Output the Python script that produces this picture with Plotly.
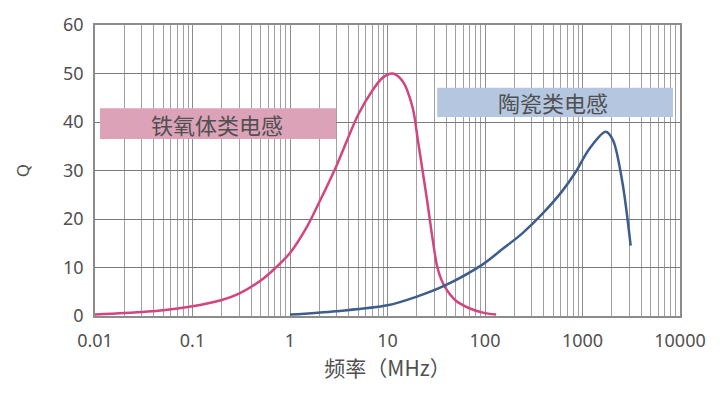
import plotly.graph_objects as go

# Ferrite inductor Q vs frequency
ferrite_f = [0.01, 0.02, 0.05, 0.1, 0.2, 0.3, 0.5, 0.7, 1, 1.5, 2, 3, 5, 7, 9, 11.3, 14.3, 18.1, 20.4, 23, 25.8, 29.1, 32.7, 38.3, 50, 69, 95, 130]
ferrite_q = [0.3, 0.6, 1.2, 2.0, 3.3, 4.6, 7.3, 9.8, 13, 18.5, 23.5, 31, 41.5, 46.5, 49.2, 50, 48.4, 43, 36.5, 29.7, 23.1, 15.7, 9.8, 6.2, 3.2, 1.6, 0.7, 0.3]

# Ceramic inductor Q vs frequency
ceramic_f = [1, 3, 10, 20, 38, 94, 151, 243, 389, 622, 851, 1168, 1730, 2050, 2559, 3119]
ceramic_q = [0.3, 1.0, 2.2, 4.0, 6.2, 10.6, 13.8, 17.1, 21.1, 25.8, 29.7, 34.4, 38, 36.3, 27.7, 14.5]

x_ticks = [0.01, 0.1, 1, 10, 100, 1000, 10000]
x_tick_text = ["0.01", "0.1", "1", "10", "100", "1000", "10000"]
y_ticks = [0, 10, 20, 30, 40, 50, 60]
minor_vals = [k * 10 ** e for e in range(-2, 4) for k in range(2, 10)]

label_ferrite = "铁氧体类电感"
label_ceramic = "陶瓷类电感"
x_title = "频率（MHz）"
y_title = "Q"

fig = go.Figure()
fig.add_trace(go.Scatter(x=ferrite_f, y=ferrite_q, mode="lines",
                         line=dict(color="#d2457f", width=2.5, shape="spline", smoothing=0.9),
                         showlegend=False))
fig.add_trace(go.Scatter(x=ceramic_f, y=ceramic_q, mode="lines",
                         line=dict(color="#3d5d8c", width=2.5, shape="spline", smoothing=0.9),
                         showlegend=False))

tick_font = dict(family="Noto Sans, Liberation Sans, sans-serif", size=18, color="#505050")
cjk = "Noto Sans CJK SC"

fig.update_xaxes(type="log", range=[-2, 4], tickvals=x_ticks, ticktext=x_tick_text,
                 showgrid=True, gridcolor="#8c8c8c", gridwidth=1.3,
                 minor=dict(tickvals=minor_vals, showgrid=True, gridcolor="#a0a0a0", gridwidth=1.3, ticks=""),
                 showline=True, linecolor="#8c8c8c", linewidth=1.5, mirror=True,
                 ticks="", tickfont=tick_font, zeroline=False, ticklabelstandoff=8,
                 title=dict(text=x_title, font=dict(family=cjk, size=21, color="#505050"), standoff=4))
fig.update_yaxes(range=[0, 60], tickvals=y_ticks,
                 showgrid=True, gridcolor="#7a7a7a", gridwidth=1.3,
                 showline=True, linecolor="#8c8c8c", linewidth=1.5, mirror=True,
                 ticks="", tickfont=tick_font, zeroline=False, ticklabelstandoff=6,
                 title=dict(text=y_title, font=dict(family="Noto Sans, sans-serif", size=17, color="#505050"), standoff=29))

fig.add_shape(type="rect", xref="paper", yref="paper", x0=0.0085, x1=0.412, y0=0.608, y1=0.714,
              fillcolor="#dba2b8", line=dict(width=0), layer="above")
fig.add_shape(type="rect", xref="paper", yref="paper", x0=0.585, x1=0.988, y0=0.684, y1=0.784,
              fillcolor="#b5c7e0", line=dict(width=0), layer="above")

fig.add_annotation(xref="paper", yref="paper", x=0.208, y=0.661, text=label_ferrite, showarrow=False,
                   xanchor="center", yanchor="middle",
                   font=dict(family=cjk, size=22, color="#505050"))
fig.add_annotation(xref="paper", yref="paper", x=0.783, y=0.734, text=label_ceramic, showarrow=False,
                   xanchor="center", yanchor="middle",
                   font=dict(family=cjk, size=22, color="#505050"))

fig.update_layout(width=720, height=393, margin=dict(l=95, r=40, t=15, b=77),
                  paper_bgcolor="white", plot_bgcolor="white")

fig.write_html("out.html", config={"displayModeBar": False},
               post_script="document.body.style.margin='0';")
